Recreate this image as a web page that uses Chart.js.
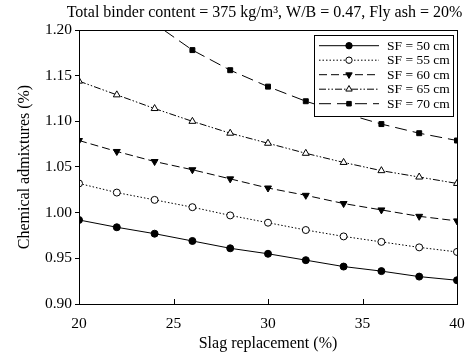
<!DOCTYPE html>
<html><head><meta charset="utf-8">
<script src="https://cdn.jsdelivr.net/npm/chart.js@4/dist/chart.umd.min.js"></script>
<style>html,body{margin:0;padding:0;background:#fff}#wrap{width:467px;height:358px;position:relative}</style>
</head><body><div id="wrap"><canvas id="c" width="467" height="358"></canvas></div>
<script>
const slagReplacement = [20, 22, 24, 26, 28, 30, 32, 34, 36, 38, 40];
const sf50 = [0.992, 0.984, 0.977, 0.969, 0.961, 0.955, 0.948, 0.941, 0.936, 0.930, 0.926];
const sf55 = [1.032, 1.022, 1.014, 1.006, 0.997, 0.989, 0.981, 0.974, 0.968, 0.962, 0.957];
const sf60 = [1.079, 1.067, 1.056, 1.047, 1.037, 1.027, 1.019, 1.010, 1.003, 0.996, 0.991];
const sf65 = [1.144, 1.129, 1.114, 1.100, 1.087, 1.076, 1.065, 1.055, 1.046, 1.039, 1.032];
const sf70 = [1.272, 1.238, 1.207, 1.178, 1.156, 1.138, 1.122, 1.109, 1.097, 1.087, 1.079];
const seriesLabels = ['SF = 50 cm', 'SF = 55 cm', 'SF = 60 cm', 'SF = 65 cm', 'SF = 70 cm'];
const xTicks = [20, 25, 30, 35, 40];
const yTicks = [0.90, 0.95, 1.00, 1.05, 1.10, 1.15, 1.20];
const titleText = 'Total binder content = 375 kg/m³, W/B = 0.47, Fly ash = 20%';
const xTitle = 'Slag replacement (%)';
const yTitle = 'Chemical admixtures (%)';

const FONT = '"Liberation Serif", "Times New Roman", serif';
const pts = arr => arr.map((v, i) => ({x: slagReplacement[i], y: v}));

const styles = [
  {dash: [], point: 'circle', fill: '#000', rot: 0, r: 3.5},
  {dash: [1.5, 2], point: 'circle', fill: '#fff', rot: 0, r: 3.5},
  {dash: [8, 4], point: 'triangle', fill: '#000', rot: 180, r: 4},
  {dash: [7, 2, 1.5, 2, 1.5, 2], point: 'triangle', fill: '#fff', rot: 0, r: 4},
  {dash: [12, 6], point: 'rect', fill: '#000', rot: 0, r: 3.5}
];
const seriesData = [sf50, sf55, sf60, sf65, sf70];

const datasets = seriesData.map((d, i) => ({
  label: seriesLabels[i],
  data: pts(d),
  showLine: true,
  borderColor: '#000',
  borderWidth: 1,
  borderDash: styles[i].dash,
  pointStyle: styles[i].point,
  pointRotation: styles[i].rot,
  pointRadius: styles[i].r,
  pointBackgroundColor: styles[i].fill,
  pointBorderColor: '#000',
  pointBorderWidth: 1,
  tension: 0,
  clip: 0
}));

const decor = {
  id: 'decor',
  afterDraw(chart) {
    const ctx = chart.ctx;
    const a = chart.chartArea;
    const xs = chart.scales.x;
    ctx.save();
    ctx.strokeStyle = '#000';
    ctx.lineWidth = 1;
    ctx.setLineDash([]);
    ctx.strokeRect(Math.round(a.left) + 0.5, Math.round(a.top) + 0.5, Math.round(a.right - a.left), Math.round(a.bottom - a.top));
    xs.ticks.forEach(t => {
      const px = Math.round(xs.getPixelForValue(t.value)) + 0.5;
      ctx.beginPath();
      ctx.moveTo(px, a.bottom);
      ctx.lineTo(px, a.bottom - 5);
      ctx.stroke();
    });
    ctx.fillStyle = '#000';
    ctx.font = '16px ' + FONT;
    ctx.textAlign = 'center';
    ctx.textBaseline = 'middle';
    ctx.fillText(titleText, 264.5, 13);
    const bx = a.right - 143, by = a.top + 5, bw = 139, bh = 81;
    ctx.fillStyle = '#fff';
    ctx.fillRect(bx, by, bw, bh);
    ctx.strokeRect(Math.round(bx) + 0.5, Math.round(by) + 0.5, bw, bh);
    chart.data.datasets.forEach((ds, i) => {
      const cy = by + 10.7 + i * 14.5;
      ctx.save();
      ctx.setLineDash(ds.borderDash);
      ctx.strokeStyle = '#000';
      ctx.lineWidth = 1;
      ctx.beginPath();
      ctx.moveTo(bx + 5, cy);
      ctx.lineTo(bx + 65, cy);
      ctx.stroke();
      ctx.setLineDash([]);
      ctx.fillStyle = ds.pointBackgroundColor;
      Chart.helpers.drawPoint(ctx, {pointStyle: ds.pointStyle, rotation: ds.pointRotation, radius: ds.pointRadius - 0.3, borderWidth: 1}, bx + 35, cy);
      ctx.restore();
      ctx.fillStyle = '#000';
      ctx.font = '13.5px ' + FONT;
      ctx.textAlign = 'left';
      ctx.textBaseline = 'middle';
      ctx.fillText(ds.label, bx + 73, cy + 0.5);
    });
    ctx.restore();
  }
};

new Chart(document.getElementById('c'), {
  type: 'scatter',
  data: {datasets: datasets},
  options: {
    responsive: false,
    animation: false,
    devicePixelRatio: 1,
    layout: {padding: {top: 30, right: 10, left: 0, bottom: 0}},
    plugins: {legend: {display: false}, title: {display: false}, tooltip: {enabled: false}},
    scales: {
      x: {
        type: 'linear', min: 20, max: 40,
        afterBuildTicks: s => { s.ticks = xTicks.map(v => ({value: v})); },
        afterFit: s => { s.height = 54; s.paddingLeft = 0; s.paddingRight = 0; },
        grid: {display: true, drawOnChartArea: false, drawTicks: false, color: '#000'},
        border: {display: true, color: '#000', width: 1},
        ticks: {color: '#000', font: {family: FONT, size: 15.5}, padding: 11, maxRotation: 0},
        title: {display: true, text: xTitle, color: '#000', font: {family: FONT, size: 16}, padding: {top: 0, bottom: 5}}
      },
      y: {
        type: 'linear', min: 0.90, max: 1.20,
        afterBuildTicks: s => { s.ticks = yTicks.map(v => ({value: v})); },
        afterFit: s => { s.width = 79; s.paddingTop = 0; s.paddingBottom = 0; },
        grid: {display: true, drawOnChartArea: false, drawTicks: true, tickLength: 4, color: '#000'},
        border: {display: true, color: '#000', width: 1},
        ticks: {color: '#000', font: {family: FONT, size: 15.5}, padding: 3, callback: v => v.toFixed(2)},
        title: {display: true, text: yTitle, color: '#000', font: {family: FONT, size: 16}, padding: {top: 15, bottom: 4}}
      }
    }
  },
  plugins: [decor]
});
</script>
</body></html>
